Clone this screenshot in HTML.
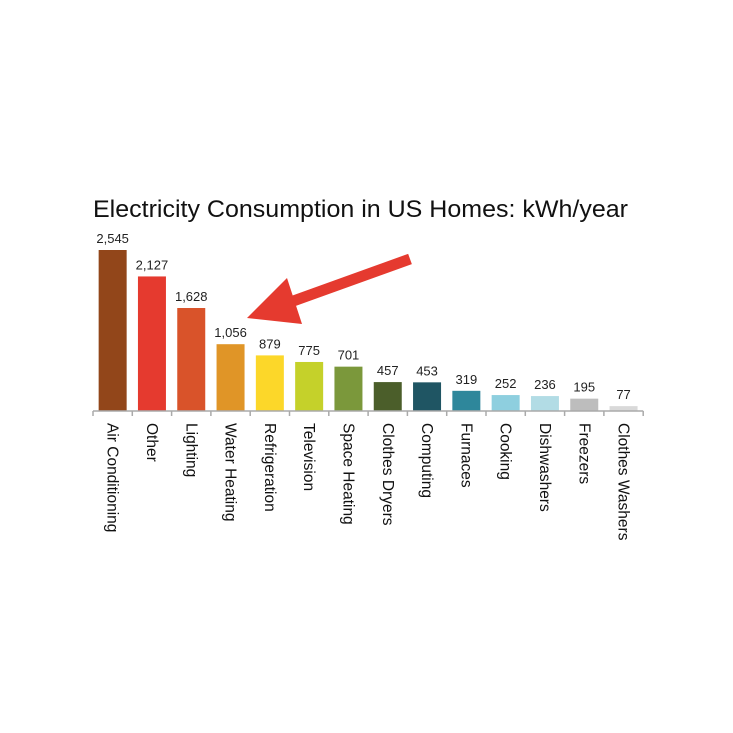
<!DOCTYPE html>
<html><head><meta charset="utf-8"><style>
body{margin:0;background:#fff;width:733px;height:733px;overflow:hidden}
svg{display:block;font-family:"Liberation Sans",sans-serif}
</style></head><body>
<svg id="c" width="733" height="733">
<text x="93" y="217" font-size="24" textLength="535" lengthAdjust="spacingAndGlyphs" fill="#111">Electricity Consumption in US Homes: kWh/year</text>
<g id="bars"></g>
<g id="axis"></g>
<g>
<line x1="410" y1="259" x2="285" y2="304" stroke="#e53a2f" stroke-width="11"/>
<polygon points="247,318 287,278 302,324" fill="#e53a2f"/>
</g>
</svg>
<script>
const categories=["Air Conditioning","Other","Lighting","Water Heating","Refrigeration","Television","Space Heating","Clothes Dryers","Computing","Furnaces","Cooking","Dishwashers","Freezers","Clothes Washers"];
const values=[2545,2127,1628,1056,879,775,701,457,453,319,252,236,195,77];
const valueLabels=["2,545","2,127","1,628","1,056","879","775","701","457","453","319","252","236","195","77"];
const colors=["#92461a","#e53a2f","#d9532a","#e09527","#fcd729","#c5d12a","#7b983b","#4b5e2a","#1f5563","#2e879b","#8ecfdf","#b2dce5","#bdbdbd","#d9d9d9"];
const NS="http://www.w3.org/2000/svg";
const x0=93,step=39.3,base=411,scale=161/2545,bw=28;
const xPos=i=>x0+i*step;
const yPos=v=>base-v*scale;
const bars=document.getElementById('bars'),axis=document.getElementById('axis');
function mk(t,a,p){const e=document.createElementNS(NS,t);for(const k in a)e.setAttribute(k,a[k]);p.appendChild(e);return e;}
categories.forEach((c,i)=>{
 const cx=xPos(i)+step/2;
 const r=mk('rect',{x:cx-bw/2,y:yPos(values[i]),width:bw,height:values[i]*scale,fill:colors[i]},bars);
 
 
 const t=mk('text',{x:cx,y:yPos(values[i])-7,'font-size':13,'text-anchor':'middle',fill:'#222'},bars);
 t.textContent=valueLabels[i];
 
 
 const l=mk('text',{x:0,y:0,'font-size':15.5,fill:'#111',transform:`translate(${cx-5},423) rotate(90)`},axis);
 l.textContent=c;
 
 
});
const al=mk('line',{x1:x0,y1:base,x2:xPos(14),y2:base,stroke:'#aaa','stroke-width':1.5},axis);


for(let i=0;i<=14;i++){
 const tk=mk('line',{x1:xPos(i),y1:base,x2:xPos(i),y2:base+5,stroke:'#aaa','stroke-width':1.5},axis);
 
 
}
</script>
</body></html>
